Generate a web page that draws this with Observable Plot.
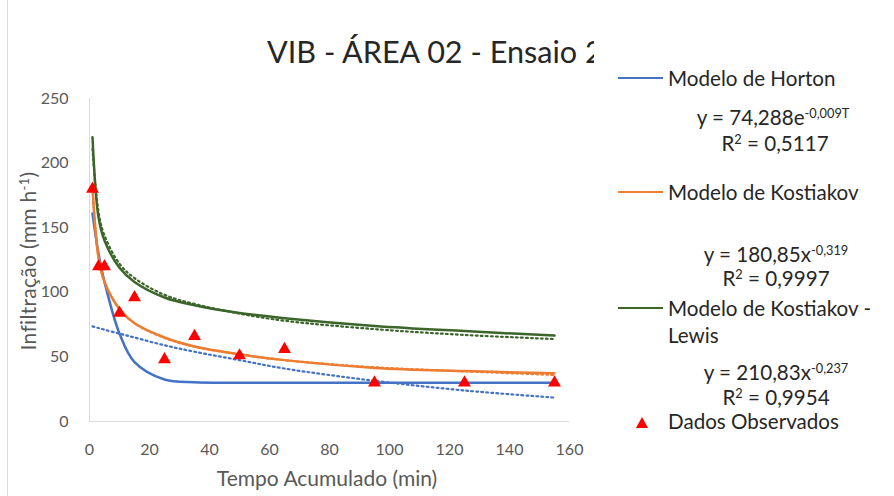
<!DOCTYPE html>
<html><head><meta charset="utf-8">
<script src="https://cdn.jsdelivr.net/npm/d3@7"></script>
<script src="https://cdn.jsdelivr.net/npm/@observablehq/plot@0.6"></script>
<style>
body{margin:0;background:#fff;}
#wrap{position:relative;width:894px;height:496px;overflow:hidden;font-family:Lato,"Open Sans",sans-serif;background:#fff;}
#chart{position:absolute;left:0;top:0;}
.border{position:absolute;left:7px;top:0;width:0;height:496px;border-left:1px solid #d9d9d9;}
.title{position:absolute;left:267px;top:30px;font-size:30.6px;line-height:44px;color:#262626;white-space:nowrap;}
.ytitle{position:absolute;left:28px;top:261px;transform:translate(-50%,-50%) rotate(-90deg);font-size:21px;letter-spacing:0.3px;color:#595959;white-space:nowrap;line-height:24px;}
.xtitle{position:absolute;left:327px;top:478px;transform:translate(-50%,-50%);font-size:21px;color:#595959;white-space:nowrap;line-height:24px;}
.legend{position:absolute;left:594px;top:30px;width:300px;height:420px;background:#fff;}
.lg{position:absolute;font-size:20.6px;line-height:26px;color:#262626;white-space:nowrap;}
.eq{position:absolute;font-size:20.6px;line-height:26px;color:#262626;white-space:nowrap;transform:translateX(-50%);}
.sw{position:absolute;width:45px;height:0;}
sup{font-size:62%;vertical-align:0.55em;line-height:0;}
</style></head><body>
<div id="wrap">
  <div class="border"></div>
  <div id="chart"></div>
  <div class="title">VIB - ÁREA 02 - Ensaio 2</div>
  <div class="ytitle">Infiltração (mm h<sup>-1</sup>)</div>
  <div class="xtitle">Tempo Acumulado (min)</div>
  <div id="legend" class="legend"></div>
</div>
<script>
// Data
const tempo = [1, 3, 5, 10, 15, 25, 35, 50, 65, 95, 125, 155];
const observados = [180, 120, 120, 84, 96, 48, 66, 51, 56, 30, 30, 30];
const horton = [161, 130, 108, 68, 46, 32.5, 30.3, 30, 30, 30, 30, 30];
const kostiakov = [180, 127, 108, 87, 76, 65, 58, 52, 47.5, 41.5, 39, 37.3];
const kostiakovLewis = [220, 158, 140, 119, 108, 96, 90, 84, 80, 74, 70, 66.5];
const tendHorton = [73.6, 72.3, 71, 68, 65, 59, 54, 47.5, 41, 31.5, 24, 18.5];
const tendKostiakov = [181, 127, 108, 87, 76, 64.7, 58, 52, 47.5, 42, 38.8, 36];
const tendKostiakovLewis = [211, 162, 144, 122, 111, 98, 91, 83.5, 78, 71.5, 67, 63.8];
const xTicks = [0, 20, 40, 60, 80, 100, 120, 140, 160];
const yTicks = [0, 50, 100, 150, 200, 250];

const series = [
  {name: "Modelo de Horton", values: horton, color: "#4472C4"},
  {name: "Modelo de Kostiakov", values: kostiakov, color: "#ED7D31"},
  {name: "Modelo de Kostiakov - Lewis", values: kostiakovLewis, color: "#3B6529"}
];
const trends = [
  {values: tendHorton, color: "#4472C4"},
  {values: tendKostiakov, color: "#ED7D31"},
  {values: tendKostiakovLewis, color: "#3B6529"}
];
const toRows = (vals) => tempo.map((t, i) => ({t, v: vals[i]}));

const marks = [
  Plot.ruleX([0], {stroke: "#d9d9d9", strokeWidth: 1}),
  Plot.ruleY([0], {stroke: "#d9d9d9", strokeWidth: 1})
];
series.forEach(s => marks.push(Plot.line(toRows(s.values), {x: "t", y: "v", stroke: s.color, strokeWidth: 2.5, curve: "catmull-rom"})));
trends.forEach(s => marks.push(Plot.line(toRows(s.values), {x: "t", y: "v", stroke: s.color, strokeWidth: 2.2, strokeDasharray: "1.8,3.2", curve: "catmull-rom"})));
marks.push(Plot.dot(toRows(observados), {x: "t", y: "v", symbol: "triangle", r: 4.8, fill: "#FF0000", stroke: "none"}));

const chart = Plot.plot({
  width: 894, height: 496,
  marginLeft: 89, marginRight: 325, marginTop: 98, marginBottom: 75,
  style: {fontFamily: "Lato, sans-serif", fontSize: "16px", color: "#595959", background: "transparent"},
  x: {domain: [0, 160], ticks: xTicks, tickSize: 0, tickPadding: 22, label: null},
  y: {domain: [0, 250], ticks: yTicks, tickSize: 0, tickPadding: 21, label: null},
  marks
});
document.getElementById("chart").appendChild(chart);

// Legend (positions relative to the legend box at left 594, top 30)
const L = document.getElementById("legend");
const ox = 594, oy = 30;
function add(html, cls, x, y, extra) {
  const d = document.createElement("div");
  d.className = cls; d.innerHTML = html;
  d.style.left = (x - ox) + "px"; d.style.top = (y - oy - 13) + "px";
  if (extra) Object.assign(d.style, extra);
  L.appendChild(d);
}
function swatch(color, y) {
  const d = document.createElement("div");
  d.className = "sw";
  d.style.left = (618 - ox) + "px"; d.style.top = (y - oy - 1.25) + "px";
  d.style.borderTop = "2.5px solid " + color;
  L.appendChild(d);
}
swatch(series[0].color, 78);
add("Modelo de Horton", "lg", 668, 78);
add("y = 74,288e<sup>-0,009T</sup>", "eq", 773, 117);
add("R<sup>2</sup> = 0,5117", "eq", 775, 143);
swatch(series[1].color, 192);
add("Modelo de Kostiakov", "lg", 668, 192);
add("y = 180,85x<sup>-0,319</sup>", "eq", 776, 254);
add("R<sup>2</sup> = 0,9997", "eq", 776, 278);
swatch(series[2].color, 308);
add("Modelo de Kostiakov -<br>Lewis", "lg", 668, 308, {lineHeight: "27px"});
add("y = 210,83x<sup>-0,237</sup>", "eq", 776, 372);
add("R<sup>2</sup> = 0,9954", "eq", 776, 397);
const tri = document.createElementNS("http://www.w3.org/2000/svg", "svg");
tri.setAttribute("width", "14"); tri.setAttribute("height", "13");
tri.style.position = "absolute";
tri.style.left = (642 - 7 - ox) + "px"; tri.style.top = (422 - 6.5 - oy) + "px";
tri.innerHTML = '<path d="M7,1 L13,12 L1,12 Z" fill="#FF0000"/>';
L.appendChild(tri);
add("Dados Observados", "lg", 668, 421);
</script>
</body></html>
